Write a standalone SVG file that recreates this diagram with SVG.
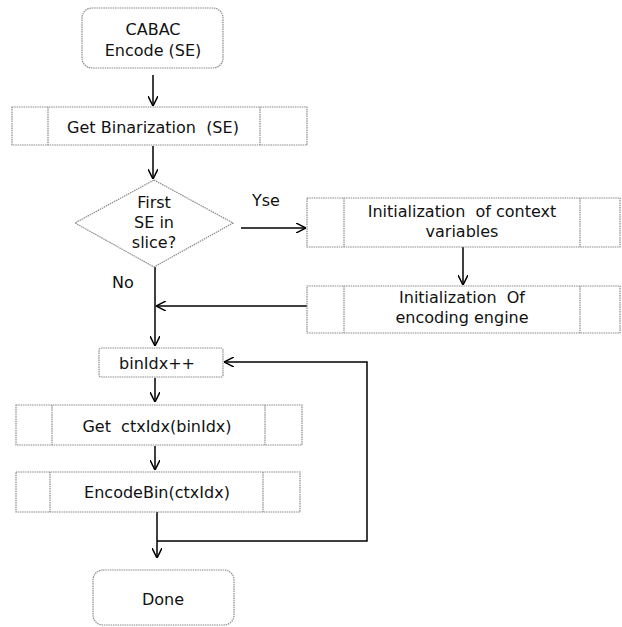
<svg xmlns="http://www.w3.org/2000/svg" width="622" height="627" viewBox="0 0 622 627">
<style>
.box{fill:#fff;stroke:#8a8a8a;stroke-width:1.2;stroke-dasharray:1.5 0.8}
.inner{stroke:#8a8a8a;stroke-width:1.2;stroke-dasharray:1.5 0.8}
.t{font-family:"DejaVu Sans",Verdana,sans-serif;font-size:16px;fill:#111;text-anchor:middle}
.lbl{font-family:"DejaVu Sans",Verdana,sans-serif;font-size:16px;fill:#111}
.c{fill:none;stroke:#000;stroke-width:1.5}
</style>
<defs>
<marker id="ah" viewBox="0 0 10 10" refX="10" refY="5" markerWidth="10" markerHeight="10" markerUnits="userSpaceOnUse" orient="auto">
<path d="M0,0 L10,5 L0,10" fill="none" stroke="#000" stroke-width="1.5"/>
</marker>
</defs>
<g id="connectors">
<line class="c" x1="153" y1="75" x2="153" y2="106" marker-end="url(#ah)"/>
<line class="c" x1="153" y1="146" x2="153" y2="179" marker-end="url(#ah)"/>
<line class="c" x1="241" y1="228" x2="306" y2="228" marker-end="url(#ah)"/>
<line class="c" x1="463" y1="247" x2="463" y2="285" marker-end="url(#ah)"/>
<line class="c" x1="307" y1="306" x2="156" y2="306" marker-end="url(#ah)"/>
<line class="c" x1="155" y1="267" x2="155" y2="346" marker-end="url(#ah)"/>
<line class="c" x1="155" y1="378" x2="155" y2="402" marker-end="url(#ah)"/>
<line class="c" x1="155" y1="446" x2="155" y2="470" marker-end="url(#ah)"/>
<line class="c" x1="157" y1="512" x2="157" y2="558" marker-end="url(#ah)"/>
<polyline class="c" points="157,541 367,541 367,362 224,362" marker-end="url(#ah)"/>
</g>
<g id="start">
<rect class="box" x="82" y="8" width="141" height="60" rx="10"/>
<text class="t" x="153" y="35">CABAC</text>
<text class="t" x="153" y="56">Encode (SE)</text>
</g>
<g id="binarization">
<rect class="box" x="12" y="107" width="295" height="38"/>
<line class="inner" x1="48" y1="107" x2="48" y2="145"/>
<line class="inner" x1="260" y1="107" x2="260" y2="145"/>
<text class="t" x="153" y="133" xml:space="preserve">Get Binarization  (SE)</text>
</g>
<g id="decision">
<polygon class="box" points="154,180 233,223 154,267 75,223"/>
<text class="t" x="154" y="208">First</text>
<text class="t" x="154" y="228">SE in</text>
<text class="t" x="154" y="248">slice?</text>
</g>
<text class="lbl" x="252" y="206">Yse</text>
<text class="lbl" x="112" y="288">No</text>
<g id="initContext">
<rect class="box" x="307" y="198" width="313" height="49"/>
<line class="inner" x1="344" y1="198" x2="344" y2="247"/>
<line class="inner" x1="580" y1="198" x2="580" y2="247"/>
<text class="t" x="462" y="217" xml:space="preserve">Initialization  of context</text>
<text class="t" x="462" y="237">variables</text>
</g>
<g id="initEngine">
<rect class="box" x="307" y="286" width="313" height="47"/>
<line class="inner" x1="344" y1="286" x2="344" y2="333"/>
<line class="inner" x1="580" y1="286" x2="580" y2="333"/>
<text class="t" x="462" y="303" xml:space="preserve">Initialization  Of</text>
<text class="t" x="462" y="323">encoding engine</text>
</g>
<g id="binIdxInc">
<rect class="box" x="99" y="348" width="124" height="29" rx="2"/>
<text class="t" x="157" y="369">binIdx++</text>
</g>
<g id="getCtxIdx">
<rect class="box" x="16" y="405" width="286" height="40"/>
<line class="inner" x1="52" y1="405" x2="52" y2="445"/>
<line class="inner" x1="265" y1="405" x2="265" y2="445"/>
<text class="t" x="157" y="432" xml:space="preserve">Get  ctxIdx(binIdx)</text>
</g>
<g id="encodeBin">
<rect class="box" x="16" y="472" width="284" height="40"/>
<line class="inner" x1="50" y1="472" x2="50" y2="512"/>
<line class="inner" x1="263" y1="472" x2="263" y2="512"/>
<text class="t" x="157" y="498">EncodeBin(ctxIdx)</text>
</g>
<g id="done">
<rect class="box" x="93" y="570" width="141" height="55" rx="10"/>
<text class="t" x="163" y="605">Done</text>
</g>
</svg>
